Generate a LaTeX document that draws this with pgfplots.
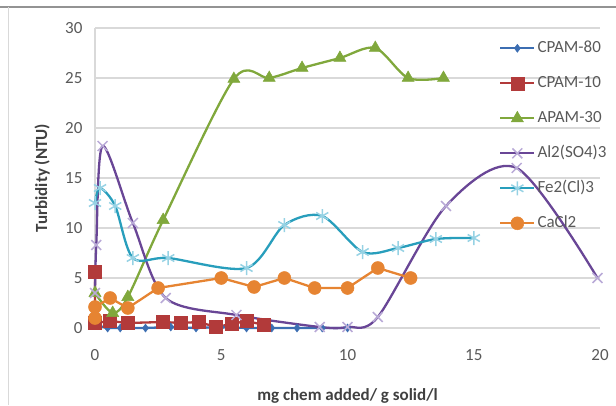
\documentclass[border=0pt]{standalone}
\usepackage{pgfplots}
\pgfplotsset{compat=1.18}
\usepackage{fontspec}
\setmainfont{Carlito}
\definecolor{cblue}{RGB}{60,110,178}
\definecolor{cred}{RGB}{178,58,58}
\definecolor{cgreen}{RGB}{128,168,60}
\definecolor{cpurple}{RGB}{105,70,150}
\definecolor{lpurple}{RGB}{185,170,215}
\definecolor{ccyan}{RGB}{40,158,188}
\definecolor{lcyan}{RGB}{150,210,228}
\definecolor{corange}{RGB}{230,132,50}
\definecolor{gridgray}{RGB}{217,217,217}
\definecolor{tickgray}{RGB}{89,89,89}
\definecolor{labgray}{RGB}{64,64,64}
\begin{document}
\begin{tikzpicture}[x=1pt,y=1pt]
\path[use as bounding box] (0,0) rectangle (616,405);
\draw[line width=2pt, color=gray!85] (0,398) -- (616,398);
\draw[line width=1pt, color=gridgray] (8,0) -- (8,398);
\begin{axis}[
  at={(95pt,77pt)}, anchor=south west,
  scale only axis, width=505pt, height=300pt,
  xmin=0, xmax=20, ymin=0, ymax=30,
  xtick={0,5,10,15,20}, ytick={0,5,10,15,20,25,30},
  ymajorgrids, major grid style={draw=gridgray, line width=2pt},
  axis lines*=left,
  x axis line style={draw=none},
  y axis line style={draw=gridgray, line width=1.5pt},
  major tick length=0pt, tick style={draw=none},
  /pgf/number format/assume math mode=true,
  ticklabel style={font=\fontsize{17}{20}\selectfont, text=tickgray},
  xticklabel shift=18pt, yticklabel shift=9pt,
  xlabel={\textbf{mg chem added/ g solid/l}},
  ylabel={\textbf{Turbidity (NTU)}},
  label style={font=\fontsize{17}{20}\selectfont, text=labgray},
  xlabel style={at={(axis description cs:0.5,-0.24)}, anchor=base},
  ylabel style={at={(axis description cs:-0.095,0.5)}, anchor=base},
  clip=false,
  legend style={at={(axis description cs:0.800,0.963)}, anchor=north west,
    draw=none, fill=none, inner sep=0pt, row sep=17pt,
    font=\fontsize{17}{20}\selectfont, text=tickgray,
    nodes={inner sep=1pt, text height=12pt, text depth=4pt},
    /tikz/every odd column/.append style={column sep=1pt}},
  legend cell align=left,
  legend image code/.code={\draw[mark repeat=2,mark phase=2,#1] plot coordinates {(0pt,0pt) (17pt,0pt) (34pt,0pt)};},
]
\addplot[cblue, line width=2.3pt, mark=diamond*, mark size=4pt, mark options={fill=cblue, draw=cblue, line width=0.5pt}]
coordinates {(0,0.3) (0.5,0) (1,0) (2,0) (3,0.1) (4,0) (5,0.1) (6,0) (7,0) (8,0) (9,0) (10,0)};
\addlegendentry{CPAM-80}
\addplot[cred, line width=2.3pt, mark=square*, mark size=6.5pt, mark options={fill=cred, draw=cred, line width=0.5pt}]
coordinates {(0,5.6) (0,0.5) (0.6,0.7) (1.3,0.5) (2.7,0.6) (3.4,0.5) (4.1,0.6) (4.8,0.1) (5.4,0.4) (6,0.7) (6.7,0.3)};
\addlegendentry{CPAM-10}
\addplot[cgreen, line width=2.3pt, smooth, mark=triangle*, mark size=7pt, mark options={fill=cgreen, draw=cgreen, line width=0.5pt}]
coordinates {(0,3.5) (0.7,1.5) (1.3,3.1) (2.7,10.8) (5.5,24.9) (6.9,25) (8.2,26) (9.7,27) (11.1,28) (12.4,25) (13.8,25)};
\addlegendentry{APAM-30}
\addplot[cpurple, line width=2.3pt, smooth, mark=x, mark size=7pt, mark options={draw=lpurple, line width=1.5pt}]
coordinates {(0,3.5) (0.05,8.3) (0.3,18.2) (1.5,10.5) (2.8,3) (5.6,1.3) (8.9,0.1) (10,0.1) (11.2,1.1) (13.9,12.2) (16.7,16) (19.9,5)};
\addlegendentry{Al2(SO4)3}
\addplot[ccyan, line width=2.3pt, smooth, mark=asterisk, mark size=7pt, mark options={draw=lcyan, line width=1.5pt}]
coordinates {(0,12.5) (0.2,14) (0.8,12.2) (1.5,7) (2.9,7) (6,6) (7.5,10.3) (9,11.2) (10.6,7.6) (12,8) (13.5,8.9) (15,9)};
\addlegendentry{Fe2(Cl)3}
\addplot[corange, line width=2.3pt, mark=*, mark size=6.5pt, mark options={fill=corange, draw=corange, line width=0.5pt}]
coordinates {(0,1.0) (0,2.1) (0.6,3) (1.3,2) (2.5,4) (5,5) (6.3,4.1) (7.5,5) (8.7,4) (10,4) (11.2,6) (12.5,5)};
\addlegendentry{CaCl2}
\end{axis}
\end{tikzpicture}
\end{document}
